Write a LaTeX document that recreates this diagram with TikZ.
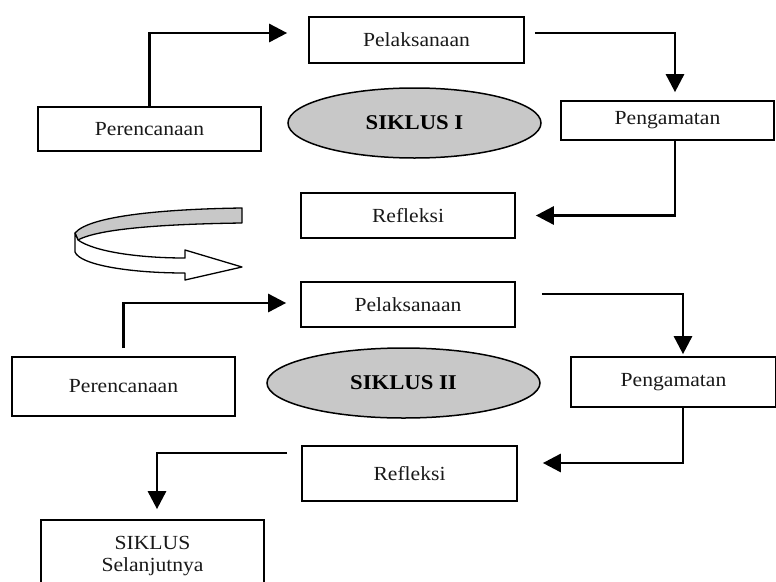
\documentclass[tikz,border=0pt]{standalone}
\usepackage{fontspec}
\setmainfont{Liberation Serif}[FakeStretch=1.08]
\usetikzlibrary{arrows.meta,shapes.geometric,calc}
\definecolor{ellgray}{RGB}{200,200,200}
\begin{document}
\begin{tikzpicture}[x=1pt,y=-1pt,
  box/.style={draw=black,line width=1.7pt,rectangle,inner sep=0pt,font=\fontsize{20}{23}\selectfont,text=black!90},
  ell/.style={draw=black,line width=1.5pt,ellipse,fill=ellgray,inner sep=0pt,font=\fontsize{21}{24}\selectfont\bfseries},
  arr/.style={line width=2.8pt,-{Triangle[length=18pt,width=18pt]}},
  band/.style={draw=black,line width=1.3pt,line join=round}]
\useasboundingbox (0,0) rectangle (776,581);
\clip (0,0) rectangle (776,581);
% cycle I
\node[box,minimum width=223pt,minimum height=44pt] (per1) at (149.5,129) {Perencanaan};
\node[box,minimum width=215pt,minimum height=46pt] (pel1) at (416.5,40) {Pelaksanaan};
\node[ell,minimum width=253pt,minimum height=70pt] (sik1) at (414.5,123) {SIKLUS I};
\node[box,minimum width=213pt,minimum height=39pt] (pen1) at (667.5,120.5) {Pengamatan};
\node[box,minimum width=214pt,minimum height=45pt] (ref1) at (408,215.5) {Refleksi};
% cycle II
\node[box,minimum width=214pt,minimum height=45pt] (pel2) at (408,304.5) {Pelaksanaan};
\node[box,minimum width=223pt,minimum height=59pt] (per2) at (123.5,386.5) {Perencanaan};
\node[ell,minimum width=273pt,minimum height=70pt] (sik2) at (403.5,383) {SIKLUS II};
\node[box,minimum width=205pt,minimum height=50pt] (pen2) at (673.5,382) {Pengamatan};
\node[box,minimum width=215pt,minimum height=55pt] (ref2) at (409.5,473.5) {Refleksi};
\node[box,minimum width=223pt,minimum height=72pt,align=center,font=\fontsize{20}{22}\selectfont] (next) at (152.5,556) {SIKLUS\\Selanjutnya};
% connectors
\draw[arr,shorten >=21pt] (per1.north) |- ([yshift=7pt]pel1.west);
\draw[arr,shorten >=8pt] ([xshift=10pt,yshift=7pt]pel1.east) -| ([xshift=7.5pt]pen1.north);
\draw[arr,shorten >=20pt] ([xshift=7.5pt]pen1.south) |- (ref1.east);
\draw[arr,shorten <=8pt,shorten >=14pt] (per2.north) |- ([yshift=1.5pt]pel2.west);
\draw[arr,shorten >=2pt] ([xshift=26pt,yshift=10.5pt]pel2.east) -| ([xshift=9.5pt]pen2.north);
\draw[arr,shorten >=25pt] ([xshift=9.5pt]pen2.south) |- ([yshift=10.5pt]ref2.east);
\draw[arr,shorten >=10pt] ([xshift=-14pt,yshift=20.5pt]ref2.west) -| ([xshift=4.5pt]next.north);
% curved transition arrow
\draw[band,fill=ellgray] (242,208) -- (242,223)
  .. controls (170,224) and (100,228) .. (78,240)
  -- (75,233)
  .. controls (90,215) and (170,209) .. (242,208) -- cycle;
\draw[band,fill=white] (78,240)
  .. controls (95,252) and (140,258) .. (185,258)
  -- (185,250) -- (242,267) -- (185,280) -- (185,273)
  .. controls (130,273) and (80,265) .. (75,252)
  -- (75,233) -- cycle;
\end{tikzpicture}
\end{document}
